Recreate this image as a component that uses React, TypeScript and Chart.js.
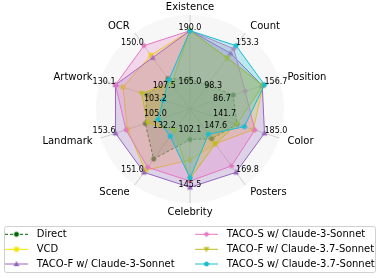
import React, { useEffect, useRef } from 'react';
import { Chart, registerables } from 'chart.js';

Chart.register(...registerables);

// Axis categories (clockwise from top)
const categories = ['Existence', 'Count', 'Position', 'Color', 'Posters', 'Celebrity', 'Scene', 'Landmark', 'Artwork', 'OCR'];

// Per-axis annotation labels
const maxLabels = ['190.0', '153.3', '156.7', '185.0', '169.8', '145.5', '151.0', '153.6', '130.1', '150.0'];
const directLabels = ['165.0', '98.3', '86.7', '141.7', '147.6', '102.1', '132.2', '105.0', '103.2', '107.5'];

// Normalised radii (per-axis score / axis maximum scale)
const direct = [0.38, 0.38, 0.58, 0.63, 0.47, 0.39, 0.79, 0.60, 0.58, 0.48];
const vcd = [1.0, 0.80, 0.98, 0.85, 0.55, 0.65, 0.97, 0.84, 0.90, 0.85];
const tacoFC3 = [1.0, 0.88, 0.97, 1.0, 1.0, 1.0, 1.0, 1.0, 1.0, 0.81];
const tacoSC3 = [1.0, 0.95, 0.74, 0.87, 0.90, 0.92, 0.92, 0.86, 1.0, 1.0];
const tacoFC37 = [1.0, 0.81, 0.975, 0.63, 0.55, 0.89, 0.34, 0.57, 0.65, 0.40];
const tacoSC37 = [1.0, 1.0, 1.0, 0.73, 0.40, 0.88, 0.43, 0.43, 0.36, 0.46];

const seriesNames = [
  'Direct',
  'VCD',
  'TACO-F w/ Claude-3-Sonnet',
  'TACO-S w/ Claude-3-Sonnet',
  'TACO-F w/ Claude-3.7-Sonnet',
  'TACO-S w/ Claude-3.7-Sonnet',
];
const seriesData = [direct, vcd, tacoFC3, tacoSC3, tacoFC37, tacoSC37];
const seriesColors = ['#006400', '#f2e600', '#9467bd', '#e377c2', '#bcbd22', '#17becf'];
const seriesMarkers = ['circle', 'square', 'up', 'diamond', 'down', 'pentagon'];
const seriesDashed = [true, false, false, false, false, false];

function hexToRgba(hex: string, a: number) {
  const n = parseInt(hex.slice(1), 16);
  return `rgba(${(n >> 16) & 255},${(n >> 8) & 255},${n & 255},${a})`;
}

function makeMarker(shape: string, color: string) {
  const s = 8;
  const c = document.createElement('canvas');
  c.width = s;
  c.height = s;
  const ctx = c.getContext('2d')!;
  const m = s / 2;
  const r = 2.6;
  ctx.fillStyle = color;
  ctx.strokeStyle = color;
  ctx.lineWidth = 0.5;
  ctx.beginPath();
  if (shape === 'circle') {
    ctx.arc(m, m, 2.3, 0, Math.PI * 2);
  } else if (shape === 'square') {
    ctx.rect(m - 2.1, m - 2.1, 4.2, 4.2);
  } else if (shape === 'up') {
    ctx.moveTo(m, m - r);
    ctx.lineTo(m + r, m + r * 0.75);
    ctx.lineTo(m - r, m + r * 0.75);
  } else if (shape === 'down') {
    ctx.moveTo(m, m + r);
    ctx.lineTo(m + r, m - r * 0.75);
    ctx.lineTo(m - r, m - r * 0.75);
  } else if (shape === 'diamond') {
    ctx.moveTo(m, m - r);
    ctx.lineTo(m + r, m);
    ctx.lineTo(m, m + r);
    ctx.lineTo(m - r, m);
  } else {
    for (let k = 0; k < 5; k++) {
      const a = -Math.PI / 2 + (k * 2 * Math.PI) / 5;
      const x = m + r * Math.cos(a);
      const y = m + r * Math.sin(a);
      if (k === 0) ctx.moveTo(x, y);
      else ctx.lineTo(x, y);
    }
  }
  ctx.closePath();
  ctx.fill();
  ctx.stroke();
  return c;
}

const FONT = '"DejaVu Sans", "Liberation Sans", sans-serif';

export default function App() {
  const ref = useRef<HTMLCanvasElement>(null);

  useEffect(() => {
    if (!ref.current) return;
    const markers = seriesMarkers.map((m, i) => makeMarker(m, seriesColors[i]));

    const annotate = {
      id: 'annotate',
      afterDatasetsDraw(chart: any) {
        const ctx = chart.ctx as CanvasRenderingContext2D;
        const scale = chart.scales.r;
        const d1 = scale.getDistanceFromCenterForValue(1);
        ctx.save();
        ctx.fillStyle = '#000';
        ctx.textBaseline = 'middle';
        const alignFor = (x: number) => {
          const dx = x - scale.xCenter;
          return Math.abs(dx) < 1 ? 'center' : dx > 0 ? 'left' : 'right';
        };
        // category labels
        ctx.font = `10px ${FONT}`;
        categories.forEach((c, i) => {
          const p = scale.getPointPosition(i, d1 * 1.308);
          ctx.textAlign = alignFor(p.x) as CanvasTextAlign;
          ctx.fillText(c, p.x, p.y + 0.5);
        });
        // value labels
        ctx.font = `8px ${FONT}`;
        maxLabels.forEach((t, i) => {
          const p = scale.getPointPosition(i, d1);
          ctx.textAlign = alignFor(p.x) as CanvasTextAlign;
          ctx.fillText(t, p.x, p.y - 2.5);
        });
        directLabels.forEach((t, i) => {
          const p = scale.getPointPosition(i, d1 * 0.31);
          ctx.textAlign = alignFor(p.x) as CanvasTextAlign;
          ctx.fillText(t, p.x, p.y - 3);
        });
        ctx.restore();
      },
      afterDraw(chart: any) {
        const ctx = chart.ctx as CanvasRenderingContext2D;
        ctx.save();
        // legend frame
        const bx = 4.5, by = 226.5, bw = 371, bh = 46, rr = 2;
        ctx.beginPath();
        ctx.moveTo(bx + rr, by);
        ctx.lineTo(bx + bw - rr, by);
        ctx.quadraticCurveTo(bx + bw, by, bx + bw, by + rr);
        ctx.lineTo(bx + bw, by + bh - rr);
        ctx.quadraticCurveTo(bx + bw, by + bh, bx + bw - rr, by + bh);
        ctx.lineTo(bx + rr, by + bh);
        ctx.quadraticCurveTo(bx, by + bh, bx, by + bh - rr);
        ctx.lineTo(bx, by + rr);
        ctx.quadraticCurveTo(bx, by, bx + rr, by);
        ctx.closePath();
        ctx.fillStyle = 'rgba(255,255,255,0.8)';
        ctx.fill();
        ctx.strokeStyle = '#d0d0d0';
        ctx.lineWidth = 1;
        ctx.stroke();

        const cols = [5, 195];
        const rows = [234.3, 249.3, 264];
        ctx.font = `10px ${FONT}`;
        ctx.textBaseline = 'middle';
        ctx.textAlign = 'left';
        seriesNames.forEach((name, i) => {
          const col = Math.floor(i / 3);
          const row = i % 3;
          const x0 = cols[col];
          const y = rows[row];
          ctx.beginPath();
          ctx.setLineDash(seriesDashed[i] ? [3, 2] : []);
          ctx.strokeStyle = seriesColors[i];
          ctx.lineWidth = 1;
          ctx.moveTo(x0, y);
          ctx.lineTo(x0 + 23, y);
          ctx.stroke();
          ctx.setLineDash([]);
          const mk = markers[i];
          ctx.drawImage(mk, x0 + 11.5 - mk.width / 2, y - mk.height / 2);
          ctx.fillStyle = '#000';
          ctx.fillText(name, x0 + 31.7, y + 0.5);
        });
        ctx.restore();
      },
    };

    const chart = new Chart(ref.current, {
      type: 'radar',
      data: {
        labels: categories,
        datasets: seriesData.map((d, i) => ({
          label: seriesNames[i],
          data: d,
          borderColor: seriesColors[i],
          backgroundColor: hexToRgba(seriesColors[i], 0.26),
          borderWidth: 1,
          borderDash: seriesDashed[i] ? [3, 2] : [],
          fill: true,
          pointStyle: markers[i] as any,
          pointRadius: 3,
          pointHoverRadius: 3,
          pointBackgroundColor: seriesColors[i],
          pointBorderColor: seriesColors[i],
          order: seriesData.length - 1 - i,
        })),
      },
      options: {
        responsive: false,
        animation: false,
        layout: { padding: { left: 96, right: 97, top: 15, bottom: 75 } },
        plugins: { legend: { display: false }, tooltip: { enabled: false } },
        elements: { line: { tension: 0 } },
        scales: {
          r: {
            min: 0,
            max: 1.2,
            backgroundColor: '#f7f7f7',
            grid: { circular: true, color: 'rgba(255,255,255,0)', lineWidth: 0 },
            angleLines: { color: '#c4c4c4', lineWidth: 0.8 },
            ticks: { display: false, stepSize: 0.2 },
            pointLabels: { display: false },
          },
        },
      } as any,
      plugins: [annotate],
    });
    return () => chart.destroy();
  }, []);

  return (
    <div style={{ position: 'absolute', left: 0, top: 0, width: 381, height: 278, background: '#fff' }}>
      <canvas ref={ref} width={381} height={278} />
    </div>
  );
}
